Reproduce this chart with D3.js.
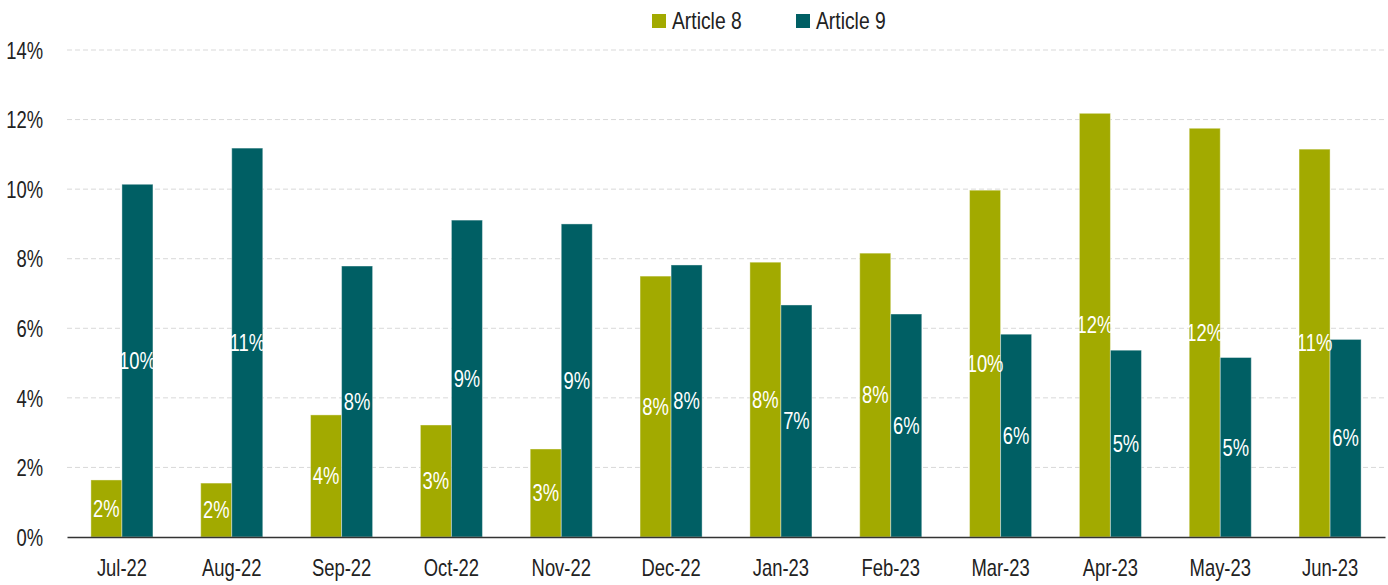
<!DOCTYPE html>
<html><head><meta charset="utf-8">
<script src="https://cdn.jsdelivr.net/npm/d3@7"></script>
<style>
body{margin:0;background:#fff;}
svg text{font-family:"Liberation Sans",Arial,sans-serif;}
</style></head><body>
<svg id="c" width="1388" height="585"></svg>
<script>
const categories=["Jul-22","Aug-22","Sep-22","Oct-22","Nov-22","Dec-22","Jan-23","Feb-23","Mar-23","Apr-23","May-23","Jun-23"];
const seriesNames=["Article 8","Article 9"];
const article8=[1.64,1.55,3.51,3.22,2.53,7.5,7.9,8.16,9.97,12.18,11.75,11.15];
const article9=[10.14,11.18,7.79,9.11,9.0,7.82,6.67,6.41,5.83,5.37,5.16,5.68];
const yTicks=[0,2,4,6,8,10,12,14];
const colors=["#A2AA00","#005F64"];

const FS=23, SX=0.8;
const svg=d3.select("#c");
const m={l:67,r:1385,t:50,b:537};
const x=d3.scaleBand().domain(categories).range([m.l,m.r]).paddingInner(0.435).paddingOuter(0.2175);
const xs=d3.scaleBand().domain(seriesNames).range([0,x.bandwidth()]);
const y=d3.scaleLinear().domain([0,14]).range([m.b,m.t]);

// gridlines
svg.append("g").selectAll("line").data(yTicks.filter(d=>d>0)).join("line")
 .attr("x1",m.l).attr("x2",m.r).attr("y1",d=>y(d)).attr("y2",d=>y(d))
 .attr("stroke","#d9d9d9").attr("stroke-width",1).attr("stroke-dasharray","5,3");

// y tick labels
const yAxis=d3.axisLeft(y).tickValues(yTicks).tickFormat(d=>d+"%").tickSize(0).tickPadding(0);
const ya=svg.append("g").attr("transform",`translate(${43},0)`).call(yAxis);
ya.select(".domain").remove();
ya.selectAll("text").attr("font-size",FS).attr("fill","#222").attr("x",0).attr("dy","0.36em")
 .attr("transform",`scale(${SX},1)`).style("font-family",null);

const data=categories.map((c,i)=>({c,vals:[article8[i],article9[i]]}));
const g=svg.append("g");
const grp=g.selectAll("g").data(data).join("g").attr("transform",d=>`translate(${x(d.c)},0)`);
const items=d=>d.vals.map((v,j)=>({v,s:seriesNames[j],j}));
grp.selectAll("rect").data(items).join("rect")
 .attr("x",d=>xs(d.s)).attr("width",xs.bandwidth())
 .attr("y",d=>y(d.v)).attr("height",d=>y(0)-y(d.v))
 .attr("fill",d=>colors[d.j]).attr("stroke","rgba(255,255,255,0.4)").attr("stroke-width",1);
grp.selectAll("text").data(items).join("text")
 .attr("transform",d=>`translate(${xs(d.s)+xs.bandwidth()/2},${(y(d.v)+y(0))/2}) scale(${SX},1)`)
 .attr("text-anchor","middle").attr("dy","0.36em").attr("font-size",FS).attr("fill","#fff")
 .text(d=>Math.round(d.v)+"%");

// x axis
const xAxis=d3.axisBottom(x).tickSize(0).tickPadding(0);
const xa=svg.append("g").attr("transform",`translate(0,${m.b})`).call(xAxis);
xa.select(".domain").attr("stroke","#333").attr("stroke-width",1.5);
xa.selectAll("text").attr("font-size",FS).attr("fill","#222").attr("x",0).attr("y",31).attr("dy","0.36em")
 .attr("transform",`scale(${SX},1)`).style("font-family",null);

// legend
const lx=[652,796];
const lg=svg.append("g").selectAll("g").data(seriesNames).join("g").attr("transform",(d,i)=>`translate(${lx[i]},14)`);
lg.append("rect").attr("width",14).attr("height",14).attr("fill",(d,i)=>colors[i]);
lg.append("text").attr("transform",`translate(20,7) scale(${SX+0.04},1)`).attr("dy","0.36em").attr("font-size",FS).attr("fill","#222").text(d=>d);
</script></body></html>
